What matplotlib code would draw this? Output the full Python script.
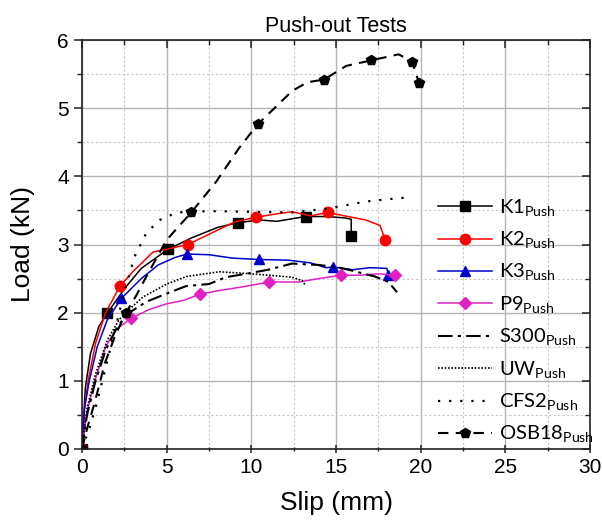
import matplotlib
matplotlib.use("Agg")
import matplotlib.pyplot as plt
from matplotlib.ticker import MultipleLocator

plt.rcParams['font.family'] = ['Liberation Sans', 'DejaVu Sans']
plt.rcParams['mathtext.fontset'] = 'custom'
plt.rcParams['mathtext.rm'] = 'Lato'

# ---- data ----
k1_x = [0, 0.2, 0.5, 1.0, 1.49, 2.5, 3.5, 5.08, 6.5, 8.0, 9.2, 10.5, 11.5, 13.2, 14.5, 15.5, 15.9, 15.9]
k1_y = [0, 0.9, 1.4, 1.8, 1.99, 2.35, 2.65, 2.93, 3.1, 3.25, 3.32, 3.36, 3.34, 3.41, 3.41, 3.39, 3.37, 3.12]
k1_m = [0, 4, 7, 10, 13, 17]

k2_x = [0, 0.15, 0.37, 0.8, 1.4, 2.24, 3.0, 4.2, 5.0, 6.25, 7.5, 9.0, 10.3, 11.5, 12.4, 13.5, 14.5, 15.5, 16.75, 17.6, 17.9]
k2_y = [0, 0.6, 1.01, 1.55, 2.0, 2.39, 2.6, 2.89, 2.93, 3.0, 3.15, 3.33, 3.40, 3.45, 3.48, 3.42, 3.47, 3.42, 3.36, 3.28, 3.07]
k2_m = [0, 5, 9, 12, 16, 20]

k3_x = [0, 0.15, 0.43, 0.9, 1.5, 2.33, 3.5, 4.5, 5.5, 6.2, 7.5, 8.9, 10.47, 12.2, 13.5, 14.4, 14.8, 16.0, 17.0, 18.0, 18.1]
k3_y = [0, 0.6, 1.0, 1.5, 1.9, 2.21, 2.5, 2.7, 2.81, 2.86, 2.85, 2.80, 2.78, 2.77, 2.73, 2.66, 2.67, 2.63, 2.66, 2.65, 2.55]
k3_m = [0, 5, 9, 12, 16, 20]

p9_x = [0, 0.27, 0.76, 1.4, 2.0, 2.92, 4.0, 5.0, 6.0, 6.94, 8.0, 9.5, 11.06, 12.8, 14.0, 15.3, 16.5, 17.5, 18.5]
p9_y = [0, 0.52, 1.0, 1.5, 1.75, 1.92, 2.05, 2.13, 2.18, 2.27, 2.32, 2.38, 2.45, 2.45, 2.50, 2.55, 2.55, 2.57, 2.55]
p9_m = [0, 5, 9, 12, 15, 18]

s300_x = [0, 0.3, 0.8, 1.4, 2.0, 2.6, 3.8, 5.0, 6.15, 7.5, 8.5, 9.9, 11.0, 12.4, 14.0, 15.2, 15.9, 17.3, 18.1, 18.6]
s300_y = [0, 0.5, 1.0, 1.45, 1.75, 1.97, 2.16, 2.28, 2.39, 2.42, 2.52, 2.58, 2.63, 2.72, 2.70, 2.66, 2.62, 2.53, 2.45, 2.3]

uw_x = [0, 0.3, 0.8, 1.5, 2.2, 2.8, 3.6, 5.0, 6.16, 8.1, 10.0, 11.5, 12.4, 13.0, 13.2]
uw_y = [0, 0.6, 1.1, 1.6, 1.9, 2.05, 2.23, 2.42, 2.53, 2.60, 2.57, 2.54, 2.52, 2.47, 2.40]

cfs2_x = [0, 0.47, 0.86, 1.25, 2.0, 2.5, 3.1, 3.8, 4.6, 5.6, 7.5, 10.0, 12.4, 14.6, 16.75, 17.9, 19.2]
cfs2_y = [0, 0.33, 0.66, 1.05, 1.8, 2.3, 2.82, 3.17, 3.36, 3.47, 3.49, 3.48, 3.47, 3.53, 3.63, 3.66, 3.69]

osb_x = [0, 0.3, 0.77, 1.35, 1.94, 2.57, 3.2, 3.8, 4.98, 5.37, 6.45, 7.92, 9.29, 10.4, 11.45, 12.4, 13.3, 14.3, 15.6, 17.06, 18.7, 19.5, 19.9]
osb_y = [0, 0.3, 0.7, 1.26, 1.65, 1.99, 2.25, 2.53, 3.06, 3.17, 3.47, 3.92, 4.42, 4.77, 5.02, 5.25, 5.38, 5.42, 5.62, 5.70, 5.79, 5.68, 5.37]
osb_m = [0, 5, 10, 13, 17, 19, 21, 22]

labels = [r'K1$_{\mathrm{Push}}$', r'K2$_{\mathrm{Push}}$', r'K3$_{\mathrm{Push}}$',
          r'P9$_{\mathrm{Push}}$', r'S300$_{\mathrm{Push}}$', r'UW$_{\mathrm{Push}}$',
          r'CFS2$_{\mathrm{Push}}$', r'OSB18$_{\mathrm{Push}}$']

fig = plt.figure(figsize=(6.02, 5.28), dpi=100)
rect = [82/602, 1-449/528, (590-82)/602, (449-40)/528]
ax = fig.add_axes(rect)

ax.plot(k1_x, k1_y, color='black', lw=1.1, marker='s', ms=6.5, markevery=k1_m, label=labels[0])
ax.plot(k2_x, k2_y, color='#ff0000', lw=1.1, marker='o', ms=7.5, markevery=k2_m, label=labels[1])
ax.plot(k3_x, k3_y, color='#0000cc', lw=1.1, marker='^', ms=7.5, markevery=k3_m, label=labels[2])
ax.plot(p9_x, p9_y, color='#e020c0', lw=1.1, marker='D', ms=6.5, markevery=p9_m, label=labels[3])
ax.plot(s300_x, s300_y, color='black', lw=1.5, ls=(0, (7, 2.5, 1.5, 2.5)), label=labels[4])
ax.plot(uw_x, uw_y, color='black', lw=1.2, ls=(0, (1, 1)), label=labels[5])
ax.plot(cfs2_x, cfs2_y, color='black', lw=1.6, ls=(0, (1, 4)), label=labels[6])
ax.plot(osb_x, osb_y, color='black', lw=1.5, ls=(0, (5, 3.5)), marker='p', ms=7.5, markevery=osb_m, label=labels[7])

ax.set_xlim(0, 30)
ax.set_ylim(0, 6)
ax.xaxis.set_major_locator(MultipleLocator(5))
ax.xaxis.set_minor_locator(MultipleLocator(2.5))
ax.yaxis.set_major_locator(MultipleLocator(1))
ax.yaxis.set_minor_locator(MultipleLocator(0.5))

for s in ax.spines.values():
    s.set_linewidth(1.2)
    s.set_color('#222222')

ax.tick_params(axis='both', which='major', labelsize=15, width=1.1, length=6, color='#222222')
ax.tick_params(axis='both', which='minor', width=1.0, length=3.5, color='#222222')
ax.tick_params(axis='x', which='both', direction='inout', top=False)
ax.tick_params(axis='y', which='both', direction='out', right=False)

ax.set_axisbelow(True)
ax.xaxis.grid(True, which='major', color='#b4b4b4', lw=1.0, ls='-')
ax.yaxis.grid(True, which='major', color='#b4b4b4', lw=1.0, ls='-')
ax.xaxis.grid(True, which='minor', color='#c8c8c8', lw=0.8, ls=(0, (2, 2)))
ax.yaxis.grid(True, which='minor', color='#c8c8c8', lw=0.8, ls=(0, (2, 2)))

# overlay axes for inward ticks on top and right
ov = fig.add_axes(rect, sharex=ax, sharey=ax)
ov.patch.set_visible(False)
for s in ov.spines.values():
    s.set_visible(False)
ov.tick_params(which='both', direction='in', bottom=False, left=False, top=True, right=True,
               labelbottom=False, labelleft=False, labeltop=False, labelright=False, color='#222222')
ov.tick_params(which='major', length=6, width=1.1)
ov.tick_params(which='minor', length=3.5, width=1.0)
ov.grid(False, which='both')

ax.set_xlabel('Slip (mm)', fontsize=19, labelpad=10)
ax.set_ylabel('Load (kN)', fontsize=19, labelpad=16)
ax.set_title('Push-out Tests', fontsize=15.5, pad=6)

leg = ax.legend(loc='upper left', bbox_to_anchor=(0.685, 0.635), frameon=False,
                prop={'family': 'Lato', 'size': 14.5}, handlelength=2.7,
                handletextpad=0.35, labelspacing=0.55, borderaxespad=0)

fig.savefig('out.png', dpi=100)
